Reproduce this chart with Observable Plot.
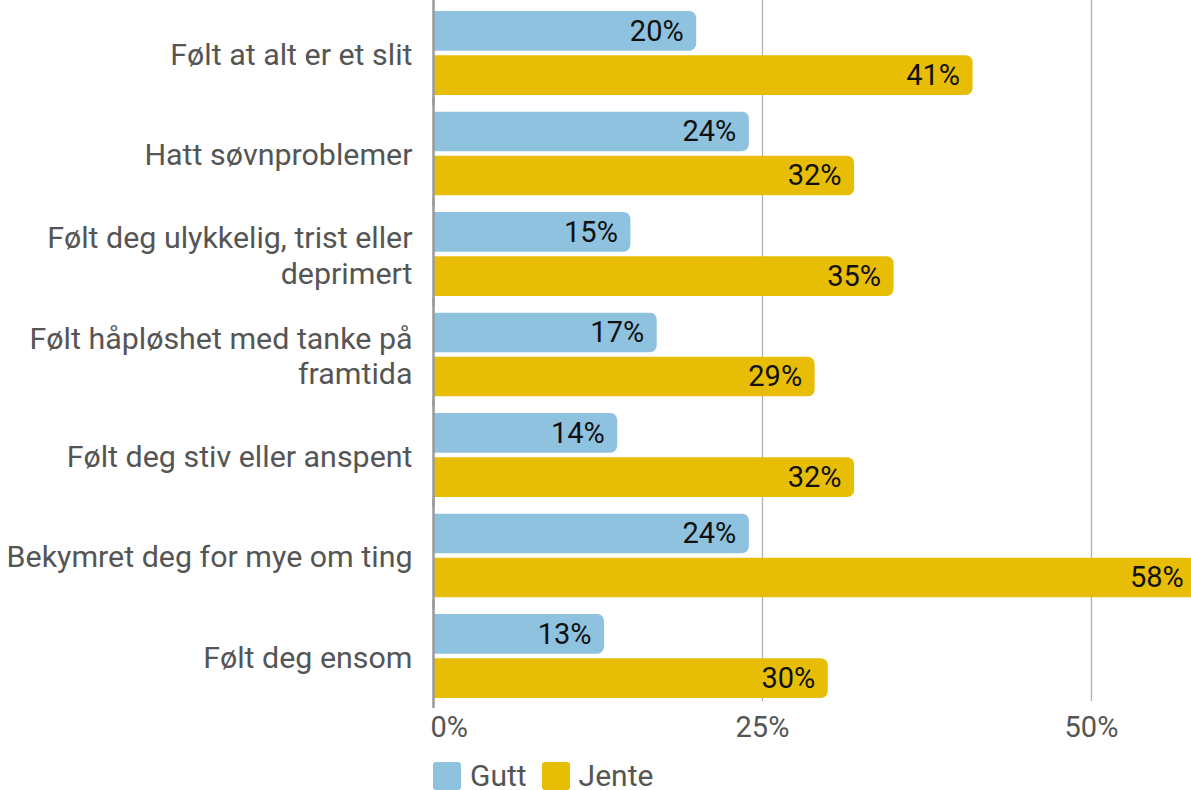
<!DOCTYPE html>
<html>
<head>
<meta charset="utf-8">
<script src="https://cdn.jsdelivr.net/npm/d3@7"></script>
<script src="https://cdn.jsdelivr.net/npm/@observablehq/plot@0.6"></script>
<style>
  html, body { margin: 0; padding: 0; background: white; overflow: hidden; }
  #legend { display: flex; align-items: center; margin-left: 433px; margin-top: 16px; font-family: Roboto, sans-serif; font-size: 30px; line-height: 30px; color: #555; }
  #legend .item { display: flex; align-items: center; margin-right: 15px; }
  #legend .sw { width: 28px; height: 28px; border-radius: 3px; margin-right: 9px; }
</style>
</head>
<body>
<div id="chart"></div>
<div id="legend"></div>
<script>
const categories = [
  "Følt at alt er et slit",
  "Hatt søvnproblemer",
  "Følt deg ulykkelig, trist eller deprimert",
  "Følt håpløshet med tanke på framtida",
  "Følt deg stiv eller anspent",
  "Bekymret deg for mye om ting",
  "Følt deg ensom"
];
const series = ["Gutt", "Jente"];
const gutt = [20, 24, 15, 17, 14, 24, 13];
const jente = [41, 32, 35, 29, 32, 58, 30];
const xTicks = [0, 25, 50];
const colors = ["#8EC2DF", "#E8BD06"];

const data = [];
categories.forEach((c, i) => {
  data.push({category: c, gender: "Gutt", value: gutt[i]});
  data.push({category: c, gender: "Jente", value: jente[i]});
});

const pct = d => d + "%";

const chart = Plot.plot({
  width: 1191,
  height: 745,
  marginLeft: 433,
  marginRight: 0,
  marginTop: 11,
  marginBottom: 47,
  style: {fontFamily: "Roboto, sans-serif", fontSize: "30px", color: "#555", background: "white"},
  x: {domain: [0, 57.6], label: null},
  fy: {domain: categories, paddingInner: 0.164, paddingOuter: 0, round: false, label: null},
  y: {domain: series, axis: null, paddingInner: 0.1, paddingOuter: 0, round: false},
  color: {domain: series, range: colors},
  marks: [
    Plot.ruleX(xTicks.slice(1), {stroke: "#b0b0b0", strokeWidth: 1.3, insetTop: -14, insetBottom: -3}),
    Plot.barX(data, {x: "value", y: "gender", fy: "category", fill: "gender", rx: 7, insetLeft: -14, clip: "frame"}),
    Plot.text(data, {x: "value", y: "gender", fy: "category", text: d => pct(d.value), textAnchor: "end", dx: -13, fill: "#111", fontSize: 29}),
    Plot.ruleX([0], {stroke: "#9a9a9a", strokeWidth: 2.5, insetTop: -14, insetBottom: -10}),
    Plot.axisX(xTicks.slice(0, 1), {tickFormat: pct, tickSize: 0, tickPadding: 18, textAnchor: "start", dx: -3, fill: "#555", fontSize: 29, label: null}),
    Plot.axisX(xTicks.slice(1), {tickFormat: pct, tickSize: 0, tickPadding: 18, fill: "#555", fontSize: 29, label: null}),
    Plot.axisFy({anchor: "left", tickSize: 0, tickPadding: 21, lineWidth: 15.5, lineHeight: 1.17, fill: "#555", fontSize: 30.4, label: null})
  ]
});
document.getElementById("chart").appendChild(chart);

const legend = document.getElementById("legend");
series.forEach((s, i) => {
  const item = document.createElement("div");
  item.className = "item";
  const sw = document.createElement("div");
  sw.className = "sw";
  sw.style.background = colors[i];
  const t = document.createElement("span");
  t.textContent = s;
  item.appendChild(sw);
  item.appendChild(t);
  legend.appendChild(item);
});
</script>
</body>
</html>
